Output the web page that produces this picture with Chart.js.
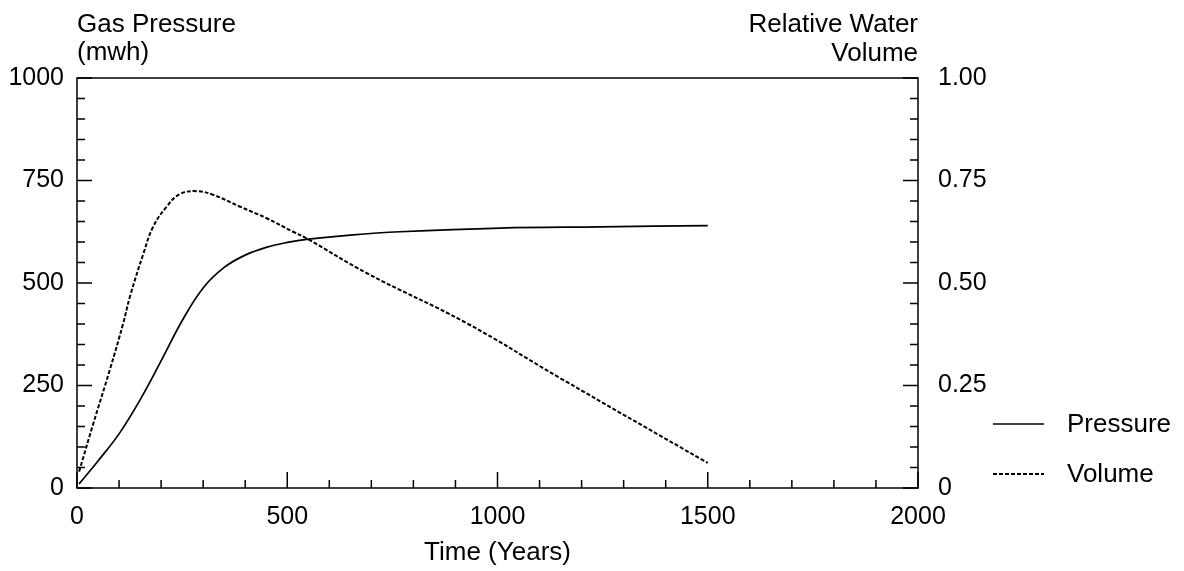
<!DOCTYPE html>
<html lang="en">
<head>
    <meta charset="UTF-8">
    <title>Gas Pressure and Relative Water Volume</title>
    <style>
        body { margin: 0; background: #fff; }
        .main { width: 1184px; height: 571px; }
    </style>
</head>
<body>
    <div class="main">
        <canvas id="myChart"></canvas>
    </div>

    <script src="https://cdn.jsdelivr.net/npm/chart.js"></script>

<script>
    // values
    const pressureYears = [5, 50, 100, 150, 200, 250, 300, 350, 400, 450, 500, 550, 650, 768, 1006, 1244, 1500];
    const pressureValues = [10, 66, 132, 215, 310, 408, 488, 538, 568, 587, 599, 607, 617, 625, 634, 637, 640];

    const volumeYears = [5, 39, 78, 110, 126, 158, 181, 213, 245, 285, 324, 388, 451, 514, 546, 689, 927, 1149, 1500];
    const volumeValues = [0.04, 0.158, 0.288, 0.402, 0.467, 0.572, 0.637, 0.686, 0.717, 0.724, 0.715, 0.686, 0.658, 0.625, 0.609, 0.524, 0.402, 0.268, 0.061];

    const xTicks = [0, 500, 1000, 1500, 2000];
    const pressureTicks = [0, 250, 500, 750, 1000];
    const volumeTicks = [0, 0.25, 0.5, 0.75, 1];

    const font = "Liberation Sans, Arial, sans-serif";

    let toPoints = (xs, ys) => xs.map((x, i) => ({ x: x, y: ys[i] }));

    // frame, inward ticks, headings and legend
    const decor = {
        id: 'decor',
        afterDraw(chart) {
            const { ctx, chartArea: a, scales } = chart;
            ctx.save();
            ctx.strokeStyle = '#000';
            ctx.lineWidth = 1.5;
            ctx.strokeRect(a.left, a.top, a.right - a.left, a.bottom - a.top);

            ctx.beginPath();
            for (let v = 0; v <= 2000; v += 100) {
                const px = scales.x.getPixelForValue(v);
                const len = v % 500 === 0 ? 16 : 8;
                ctx.moveTo(px, a.bottom);
                ctx.lineTo(px, a.bottom - len);
            }
            for (let v = 0; v <= 1000; v += 50) {
                const py = scales.y.getPixelForValue(v);
                const len = v % 250 === 0 ? 15 : 8;
                ctx.moveTo(a.left, py);
                ctx.lineTo(a.left + len, py);
            }
            for (let v = 0; v <= 1000; v += 50) {
                const py = scales.y2.getPixelForValue(v / 1000);
                const len = v % 250 === 0 ? 15 : 8;
                ctx.moveTo(a.right, py);
                ctx.lineTo(a.right - len, py);
            }
            ctx.stroke();

            ctx.fillStyle = '#000';
            ctx.font = '26px ' + font;
            ctx.textBaseline = 'alphabetic';
            ctx.textAlign = 'left';
            ctx.fillText('Gas Pressure', a.left, 32);
            ctx.fillText('(mwh)', a.left, 60);
            ctx.textAlign = 'right';
            ctx.fillText('Relative Water', a.right, 32);
            ctx.fillText('Volume', a.right, 61);

            // legend
            const rows = [424, 474];
            chart.data.datasets.forEach((ds, i) => {
                ctx.beginPath();
                ctx.lineWidth = ds.borderWidth;
                ctx.setLineDash(ds.borderDash || []);
                ctx.moveTo(993, rows[i]);
                ctx.lineTo(1044, rows[i]);
                ctx.stroke();
                ctx.setLineDash([]);
                ctx.textAlign = 'left';
                ctx.textBaseline = 'middle';
                ctx.fillText(ds.label, 1067, rows[i] + 1);
            });
            ctx.restore();
        }
    };

    const ctx = document.getElementById('myChart');

    new Chart(ctx, {
        type: 'line',
        data: {
            datasets: [{
                label: 'Pressure',
                data: toPoints(pressureYears, pressureValues),
                borderColor: '#000',
                borderWidth: 1.7,
                pointRadius: 0,
                tension: 0.4,
                yAxisID: 'y'
            }, {
                label: 'Volume',
                data: toPoints(volumeYears, volumeValues),
                borderColor: '#000',
                borderWidth: 2,
                borderDash: [4, 2],
                pointRadius: 0,
                tension: 0.4,
                yAxisID: 'y2'
            }]
        },
        options: {
            responsive: true,
            maintainAspectRatio: false,
            animation: false,
            layout: { padding: { top: 78, left: 0, right: 0, bottom: 0 } },
            plugins: {
                legend: { display: false },
                tooltip: { enabled: false }
            },
            scales: {
                x: {
                    type: 'linear',
                    min: 0,
                    max: 2000,
                    afterBuildTicks: (s) => { s.ticks = xTicks.map(v => ({ value: v })); },
                    afterFit: (s) => { s.height = 83; },
                    grid: { display: false, drawTicks: false },
                    border: { display: false },
                    ticks: {
                        color: '#000', padding: 14, maxRotation: 0,
                        font: { family: font, size: 25 },
                        callback: (v) => String(v)
                    },
                    title: {
                        display: true,
                        text: 'Time (Years)',
                        color: '#000',
                        padding: { top: 0, bottom: 3 },
                        font: { family: font, size: 26 }
                    }
                },
                y: {
                    type: 'linear',
                    position: 'left',
                    min: 0,
                    max: 1000,
                    afterBuildTicks: (s) => { s.ticks = pressureTicks.map(v => ({ value: v })); },
                    afterFit: (s) => { s.width = 77; },
                    grid: { display: false, drawTicks: false },
                    border: { display: false },
                    ticks: {
                        color: '#000', padding: 13,
                        font: { family: font, size: 25 },
                        callback: (v) => String(v)
                    }
                },
                y2: {
                    type: 'linear',
                    position: 'right',
                    min: 0,
                    max: 1,
                    afterBuildTicks: (s) => { s.ticks = volumeTicks.map(v => ({ value: v })); },
                    afterFit: (s) => { s.width = 266; },
                    grid: { display: false, drawTicks: false },
                    border: { display: false },
                    ticks: {
                        color: '#000',
                        padding: 20,
                        font: { family: font, size: 25 },
                        callback: (v) => v === 0 ? '0' : v.toFixed(2)
                    }
                }
            }
        },
        plugins: [decor]
    });
</script>

</body>
</html>
